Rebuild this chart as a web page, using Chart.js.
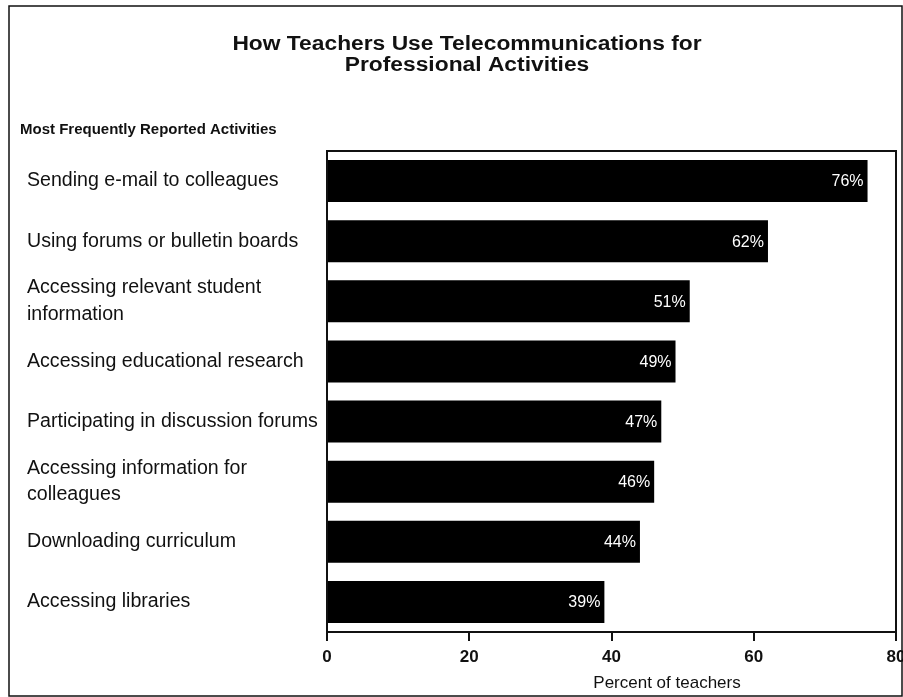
<!DOCTYPE html>
<html>
<head>
<meta charset="utf-8">
<script src="https://cdn.jsdelivr.net/npm/chart.js@4.4.1/dist/chart.umd.min.js"></script>
<style>
  html, body { margin: 0; padding: 0; background: #fff; }
</style>
</head>
<body>
<canvas id="activities_chart" width="903" height="697"></canvas>
<script>
const activities = [
  'Sending e-mail to colleagues',
  'Using forums or bulletin boards',
  ['Accessing relevant student', 'information'],
  'Accessing educational research',
  'Participating in discussion forums',
  ['Accessing information for', 'colleagues'],
  'Downloading curriculum',
  'Accessing libraries'
];
const percentTeachers = [76, 62, 51, 49, 47, 46, 44, 39];
const xTicks = [0, 20, 40, 60, 80];

const titleLines = ['How Teachers Use Telecommunications for', 'Professional Activities'];
const subTitle = 'Most Frequently Reported Activities';
const axisTitle = 'Percent of teachers';

const FONT = '"Liberation Sans", Arial, Helvetica, sans-serif';

// frame, heading texts and the box round the plot
const framePlugin = {
  id: 'framePlugin',
  beforeDraw(chart) {
    const { ctx } = chart;
    ctx.save();
    ctx.fillStyle = '#fff';
    ctx.fillRect(0, 0, chart.width, chart.height);
    ctx.restore();
  },
  afterDraw(chart) {
    const { ctx, chartArea } = chart;
    ctx.save();
    ctx.strokeStyle = '#111';
    ctx.lineWidth = 1.5;
    ctx.strokeRect(9, 6, 893, 690);

    ctx.lineWidth = 2;
    ctx.beginPath();
    ctx.moveTo(chartArea.left, chartArea.top);
    ctx.lineTo(chartArea.right, chartArea.top);
    ctx.lineTo(chartArea.right, chartArea.bottom);
    ctx.stroke();

    ctx.fillStyle = '#111';
    ctx.textBaseline = 'middle';

    // title is a bit wider than the plain font, stretch it sideways
    ctx.save();
    ctx.textAlign = 'center';
    ctx.font = 'bold 20px ' + FONT;
    ctx.translate(467, 0);
    ctx.scale(1.14, 1);
    ctx.fillText(titleLines[0], 0, 44);
    ctx.fillText(titleLines[1], 0, 65);
    ctx.restore();

    ctx.textAlign = 'left';
    ctx.font = 'bold 15px ' + FONT;
    ctx.fillText(subTitle, 20, 130);

    ctx.textAlign = 'center';
    ctx.font = '17px ' + FONT;
    ctx.fillText(axisTitle, 667, 683);
    ctx.restore();
  }
};

const barLabels = {
  id: 'barLabels',
  afterDatasetsDraw(chart) {
    const { ctx } = chart;
    const meta = chart.getDatasetMeta(0);
    ctx.save();
    ctx.fillStyle = '#fff';
    ctx.font = '16px ' + FONT;
    ctx.textAlign = 'right';
    ctx.textBaseline = 'middle';
    meta.data.forEach((bar, i) => {
      ctx.fillText(percentTeachers[i] + '%', bar.x - 4, bar.y + 1);
    });
    ctx.restore();
  }
};

new Chart(document.getElementById('activities_chart'), {
  type: 'bar',
  data: {
    labels: activities,
    datasets: [{
      data: percentTeachers,
      backgroundColor: '#000',
      borderWidth: 0,
      barPercentage: 0.7,
      categoryPercentage: 1
    }]
  },
  options: {
    indexAxis: 'y',
    responsive: false,
    animation: false,
    devicePixelRatio: 1,
    layout: { padding: { left: 27, top: 151, right: 7, bottom: 0 } },
    plugins: {
      legend: { display: false },
      tooltip: { enabled: false }
    },
    scales: {
      x: {
        min: 0,
        max: 80,
        afterBuildTicks: s => { s.ticks = xTicks.map(v => ({ value: v })); },
        afterFit: s => { s.height = 65; s.paddingLeft = 0; s.paddingRight = 0; },
        grid: {
          display: true,
          drawOnChartArea: false,
          drawTicks: true,
          tickLength: 9,
          color: '#111',
          lineWidth: 2
        },
        border: { display: true, color: '#111', width: 2 },
        ticks: {
          color: '#111',
          padding: 6,
          maxRotation: 0,
          font: { family: FONT, size: 17, weight: 'bold' }
        }
      },
      y: {
        afterFit: s => { s.width = 300; s.paddingTop = 0; s.paddingBottom = 0; },
        grid: { display: false },
        border: { display: true, color: '#111', width: 2 },
        ticks: {
          crossAlign: 'far',
          color: '#111',
          padding: 0,
          autoSkip: false,
          font: { family: FONT, size: 19.6, lineHeight: 1.35 }
        }
      }
    }
  },
  plugins: [framePlugin, barLabels]
});
</script>
</body>
</html>
